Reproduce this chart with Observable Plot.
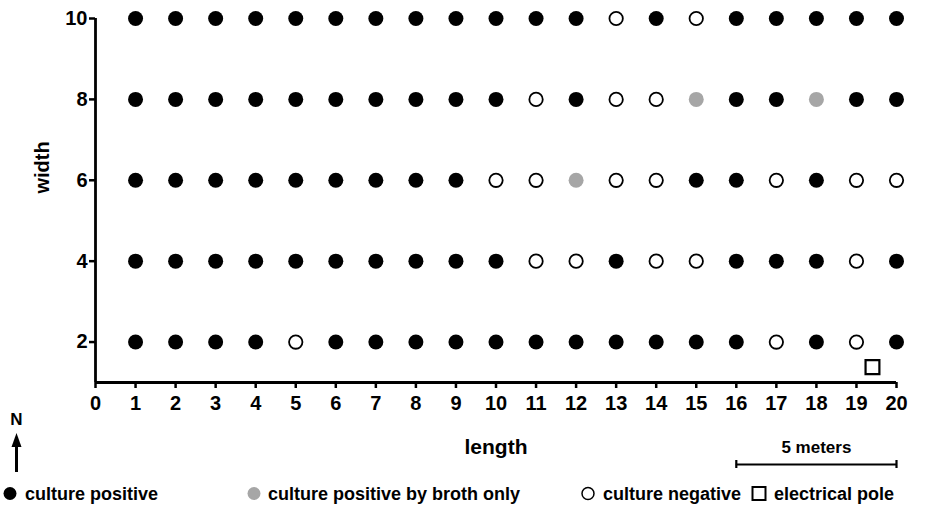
<!DOCTYPE html>
<html>
<head>
<meta charset="utf-8">
<script src="https://cdn.jsdelivr.net/npm/d3@7"></script>
<script src="https://cdn.jsdelivr.net/npm/@observablehq/plot@0.6"></script>
<style>
  html, body { margin: 0; padding: 0; background: #fff; }
  #wrap { position: relative; width: 936px; height: 515px; font-family: "Liberation Sans", Arial, sans-serif; }
  #legend { position: absolute; left: 0; top: 480px; width: 936px; height: 30px; font-weight: bold; font-size: 18px; color: #000; }
  #legend .item { position: absolute; top: 2px; height: 24px; line-height: 24px; white-space: nowrap; }
  #legend svg { position: absolute; top: 0; }
</style>
</head>
<body>
<div id="wrap"><div id="chart"></div><div id="legend"></div></div>
<script>
// ---- data ----
const lengths = [1,2,3,4,5,6,7,8,9,10,11,12,13,14,15,16,17,18,19,20];
const widths = [2,4,6,8,10];
const xTicks = [0,1,2,3,4,5,6,7,8,9,10,11,12,13,14,15,16,17,18,19,20];
const yTicks = [2,4,6,8,10];
// P = culture positive, B = culture positive by broth only, N = culture negative
const row2  = ["P","P","P","P","N","P","P","P","P","P","P","P","P","P","P","P","N","P","N","P"];
const row4  = ["P","P","P","P","P","P","P","P","P","P","N","N","P","N","N","P","P","P","N","P"];
const row6  = ["P","P","P","P","P","P","P","P","P","N","N","B","N","N","P","P","N","P","N","N"];
const row8  = ["P","P","P","P","P","P","P","P","P","P","N","P","N","N","B","P","P","B","P","P"];
const row10 = ["P","P","P","P","P","P","P","P","P","P","P","P","N","P","N","P","P","P","P","P"];
const poleLength = [19.4];
const poleWidth = [1.38];
const scaleBarLength = [16, 20]; // 5 meters
const statusLabels = {P: "culture positive", B: "culture positive by broth only", N: "culture negative"};

const rows = [row2, row4, row6, row8, row10];
const samples = [];
rows.forEach((row, j) => row.forEach((s, i) => samples.push({length: lengths[i], width: widths[j], status: s})));
const pole = poleLength.map((l, i) => ({length: l, width: poleWidth[i]}));

const fillOf = {P: "#000", B: "#a6a6a6", N: "#fff"};

const chart = Plot.plot({
  width: 936,
  height: 478,
  marginLeft: 95,
  marginRight: 40,
  marginTop: 18,
  marginBottom: 96,
  x: {domain: [0, 20]},
  y: {domain: [1, 10]},
  style: {fontFamily: "Liberation Sans, Arial, sans-serif", color: "#000", background: "#fff"},
  marks: [
    Plot.axisX(xTicks, {tickSize: 6, tickPadding: 7, fontSize: 20, fontWeight: "bold", strokeWidth: 2.5, label: null}),
    Plot.axisY(yTicks, {tickSize: 6, tickPadding: 2, fontSize: 20, fontWeight: "bold", strokeWidth: 2.5, label: null}),
    Plot.ruleX([0], {strokeWidth: 2.8}),
    Plot.ruleY([1], {strokeWidth: 2.8}),
    Plot.dot(samples.filter(d => d.status !== "N"), {x: "length", y: "width", r: 7.5, fill: d => fillOf[d.status], strokeWidth: 0}),
    Plot.dot(samples.filter(d => d.status === "N"), {x: "length", y: "width", r: 6.7, fill: "#fff", stroke: "#000", strokeWidth: 1.8}),
    Plot.dot(pole, {x: "length", y: "width", symbol: "square", r: 7.8, fill: "#fff", stroke: "#000", strokeWidth: 2.2}),
    Plot.text(["length"], {frameAnchor: "bottom", dy: 71, fontSize: 21, fontWeight: "bold"}),
    Plot.text(["width"], {frameAnchor: "left", rotate: -90, dx: -53, dy: -7, fontSize: 20, fontWeight: "bold"}),
    Plot.ruleY([1], {x1: scaleBarLength[0], x2: scaleBarLength[1], dy: 82, strokeWidth: 2.2}),
    Plot.ruleX(scaleBarLength, {y1: 1, y2: 1, dy: 82, insetTop: -4, insetBottom: -4, strokeWidth: 2.2}),
    Plot.text(["5 meters"], {x: (scaleBarLength[0] + scaleBarLength[1]) / 2, y: 1, dy: 65, fontSize: 17, fontWeight: "bold"})
  ]
});
document.getElementById("chart").appendChild(chart);

// north arrow
const svg = d3.select(chart);
const na = svg.append("g");
na.append("text").attr("x", 16.5).attr("y", 425).attr("text-anchor", "middle")
  .attr("font-size", 17).attr("font-weight", "bold").attr("font-family", "Liberation Sans, Arial, sans-serif").text("N");
na.append("line").attr("x1", 16.5).attr("x2", 16.5).attr("y1", 472).attr("y2", 444).attr("stroke", "#000").attr("stroke-width", 3);
na.append("path").attr("d", "M16.5,433 L11.5,447 L21.5,447 Z").attr("fill", "#000");

// legend
const legend = d3.select("#legend");
const items = [
  {label: statusLabels.P, cx: 10, tx: 25, kind: "P"},
  {label: statusLabels.B, cx: 254, tx: 268, kind: "B"},
  {label: statusLabels.N, cx: 588, tx: 603, kind: "N"},
  {label: "electrical pole", cx: 759, tx: 774, kind: "pole"}
];
items.forEach(it => {
  const s = legend.append("svg").attr("width", 20).attr("height", 28).style("left", (it.cx - 10) + "px");
  if (it.kind === "pole") {
    s.append("rect").attr("x", 3.5).attr("y", 7).attr("width", 13).attr("height", 13).attr("fill", "#fff").attr("stroke", "#000").attr("stroke-width", 2);
  } else if (it.kind === "N") {
    s.append("circle").attr("cx", 10).attr("cy", 13.5).attr("r", 6).attr("fill", "#fff").attr("stroke", "#000").attr("stroke-width", 1.5);
  } else {
    s.append("circle").attr("cx", 10).attr("cy", 13.5).attr("r", 6.5).attr("fill", fillOf[it.kind]);
  }
  legend.append("div").attr("class", "item").style("left", it.tx + "px").text(it.label);
});
</script>
</body>
</html>
